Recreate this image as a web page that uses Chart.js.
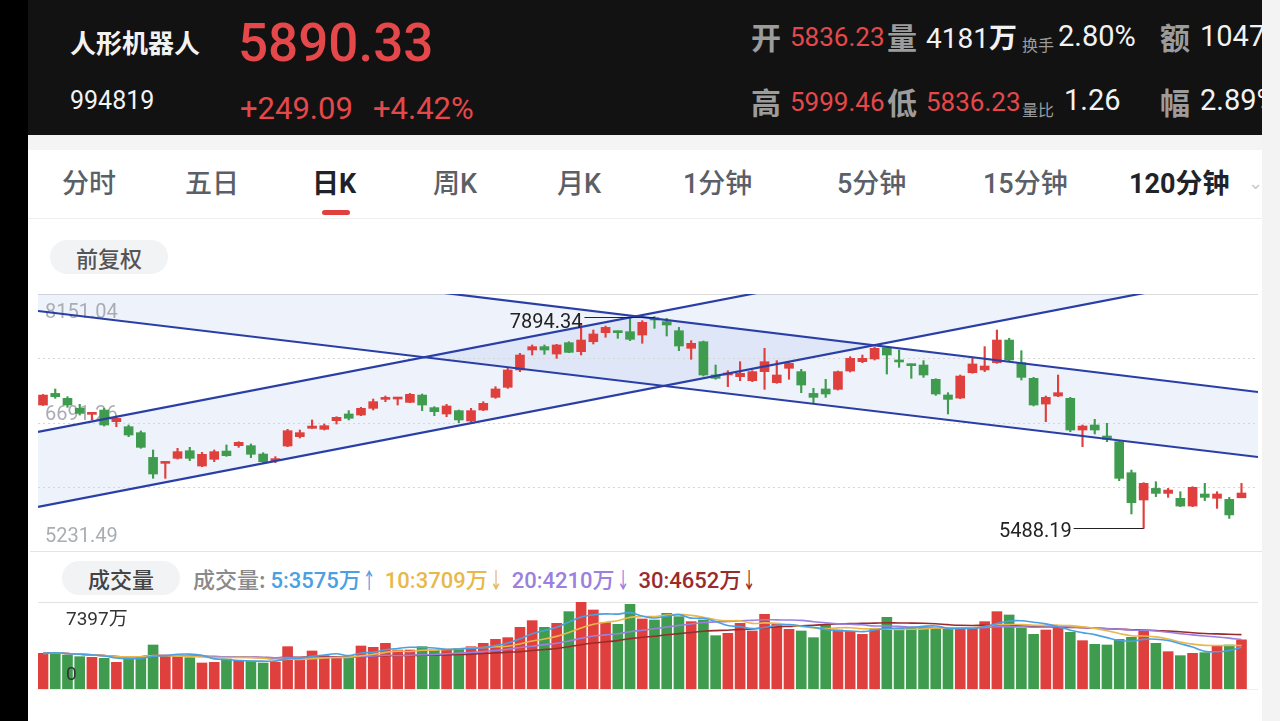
<!DOCTYPE html>
<html lang="zh-CN">
<head>
<meta charset="utf-8">
<title>人形机器人 日K</title>
<script src="https://cdn.jsdelivr.net/npm/chart.js@4.4.1/dist/chart.umd.min.js"></script>
<style>
  html, body { margin: 0; padding: 0; }
  body {
    width: 1280px; height: 721px; overflow: hidden; position: relative; background: #fff;
    font-family: Roboto, "Noto Sans CJK SC", sans-serif;
  }
  .abs { position: absolute; white-space: nowrap; }
  #header { left: 0; top: 0; width: 1280px; height: 135px; background: #121212; }
  #leftStrip { left: 0; top: 0; width: 28px; height: 721px; background: #000; }
  #rightStrip { left: 1262px; top: 0; width: 18px; height: 721px; background: #f3f3f3; }
  #band { left: 28px; top: 135px; width: 1234px; height: 15px; background: #f4f4f4; }
  .hz { color: #9c9c9c; font-size: 30px; font-weight: 700; line-height: 30px; font-family: "Noto Sans CJK SC", sans-serif; }
  .hn { font-size: 26px; line-height: 26px; }
  .hs { color: #9c9c9c; font-size: 16px; line-height: 16px; font-family: "Noto Sans CJK SC", sans-serif; }
  .red { color: #e5484a; }
  .white { color: #f2f2f2; }
  .tab { top: 168px; font-size: 27px; line-height: 32px; color: #5b6068; font-weight: 500; }
  .tab.on { color: #1f2329; font-weight: 700; }
  .pill { background: #f2f3f5; border-radius: 17px; text-align: center; color: #555; font-size: 22px;
          font-family: "Noto Sans CJK SC", sans-serif; font-weight: 500; }
  .hline { height: 1px; background: #e6e6e6; }
  canvas { position: absolute; }
</style>
</head>
<body>
<div id="header" class="abs"></div>
<div id="leftStrip" class="abs"></div>
<div id="band" class="abs"></div>

<div class="abs white" style="left:70px;top:28px;font-size:26px;line-height:28px;font-weight:700;font-family:'Noto Sans CJK SC',sans-serif;">人形机器人</div>
<div class="abs red" style="left:238px;top:15px;font-size:53px;line-height:56px;font-weight:500;">5890.33</div>
<div class="abs white" style="left:70px;top:88px;font-size:25px;line-height:26px;">994819</div>
<div class="abs red" style="left:240px;top:93px;font-size:31px;line-height:32px;">+249.09</div>
<div class="abs red" style="left:373px;top:93px;font-size:31px;line-height:32px;">+4.42%</div>

<div class="abs hz" style="left:751px;top:21px;">开</div>
<div class="abs hn red" style="left:790px;top:24px;">5836.23</div>
<div class="abs hz" style="left:887px;top:21px;">量</div>
<div class="abs hn white" style="left:926px;top:23px;font-size:28px;">4181<span style="font-family:'Noto Sans CJK SC';font-weight:700;">万</span></div>
<div class="abs hs" style="left:1022px;top:36px;">换手</div>
<div class="abs hn white" style="left:1058px;top:23px;font-size:29px;">2.80%</div>
<div class="abs hz" style="left:1160px;top:21px;">额</div>
<div class="abs hn white" style="left:1200px;top:23px;font-size:29px;">1047万</div>

<div class="abs hz" style="left:751px;top:86px;">高</div>
<div class="abs hn red" style="left:790px;top:89px;">5999.46</div>
<div class="abs hz" style="left:887px;top:86px;">低</div>
<div class="abs hn red" style="left:926px;top:89px;">5836.23</div>
<div class="abs hs" style="left:1022px;top:101px;">量比</div>
<div class="abs hn white" style="left:1064px;top:87px;font-size:29px;">1.26</div>
<div class="abs hz" style="left:1160px;top:86px;">幅</div>
<div class="abs hn white" style="left:1200px;top:87px;font-size:29px;">2.89%</div>

<div class="abs tab" style="left:62px;">分时</div>
<div class="abs tab" style="left:185px;">五日</div>
<div class="abs tab on" style="left:312px;">日K</div>
<div class="abs tab" style="left:433px;">周K</div>
<div class="abs tab" style="left:557px;">月K</div>
<div class="abs tab" style="left:683px;">1分钟</div>
<div class="abs tab" style="left:837px;">5分钟</div>
<div class="abs tab" style="left:983px;">15分钟</div>
<div class="abs tab on" style="left:1129px;">120分钟</div>
<div class="abs" style="left:1248px;top:172px;font-size:18px;color:#c8c8c8;">&#8964;</div>
<div class="abs" style="left:322px;top:210px;width:28px;height:5px;border-radius:3px;background:#e2403f;"></div>
<div class="abs hline" style="left:28px;top:218px;width:1234px;background:#eeeeee;"></div>

<div class="abs pill" style="left:50px;top:240px;width:118px;height:34px;line-height:34px;">前复权</div>

<div class="abs hline" style="left:38px;top:294px;width:1220px;background:#dcdcdc;"></div>
<canvas id="priceChart" width="1220" height="257" style="left:38px;top:294px;width:1220px;height:257px;"></canvas>
<div class="abs hline" style="left:30px;top:551px;width:1232px;background:#e4e4e4;"></div>

<div class="abs pill" style="left:62px;top:561px;width:118px;height:34px;line-height:34px;color:#444;">成交量</div>
<div id="maLegend" class="abs" style="left:193px;top:564px;font-size:22px;line-height:28px;font-weight:500;"></div>

<div class="abs hline" style="left:38px;top:602px;width:1220px;background:#e2e2e2;"></div>
<canvas id="volumeChart" width="1220" height="87" style="left:38px;top:602px;width:1220px;height:87px;"></canvas>
<div class="abs hline" style="left:38px;top:689px;width:1220px;background:#eeeeee;"></div>
<div id="rightStrip" class="abs"></div>

<script>
// daily candles, oldest to newest
const opens = [
  6890, 7022, 6966, 6852, 6784, 6833, 6701, 6644, 6576, 6295,
  6227, 6284, 6371, 6197, 6273, 6367, 6428, 6428, 6333, 6258,
  6424, 6530, 6625, 6614, 6712, 6788, 6776, 6852, 6954, 6958,
  6920, 7003, 6860, 6788, 6826, 6708, 6833, 6977, 7091, 7288,
  7515, 7553, 7469, 7598, 7496, 7609, 7712, 7731, 7723, 7685,
  7882, 7837, 7734, 7534, 7609, 7231, 7231, 7212, 7166, 7269,
  7144, 7307, 7269, 7022, 7072, 7068, 7276, 7382, 7413, 7541,
  7401, 7356, 7344, 7182, 7004, 6969, 7257, 7288, 7371, 7628,
  7371, 7193, 6901, 6992, 6966, 6606, 6663, 6538, 6473, 6121,
  5811, 5943, 5886, 5830, 5742, 5879, 5830, 5818, 5836.23
];
const highs = [
  7010, 7072, 6985, 6898, 6803, 6852, 6765, 6663, 6595, 6379,
  6246, 6398, 6409, 6352, 6379, 6436, 6473, 6447, 6348, 6303,
  6614, 6606, 6720, 6674, 6757, 6826, 6864, 6958, 6992, 6973,
  7022, 7015, 6871, 6898, 6833, 6852, 6928, 7098, 7307, 7477,
  7572, 7572, 7579, 7609, 7818, 7742, 7787, 7731, 7880, 7848,
  7894.34, 7875, 7772, 7621, 7617, 7344, 7280, 7382, 7280, 7534,
  7394, 7382, 7295, 7079, 7182, 7276, 7439, 7458, 7545, 7553,
  7515, 7356, 7394, 7189, 7030, 7231, 7420, 7553, 7742, 7647,
  7507, 7204, 6992, 7231, 6977, 6663, 6727, 6682, 6485, 6151,
  6008, 6019, 5943, 5905, 5962, 6000, 5905, 5841, 5999.46
];
const lows = [
  6885, 6966, 6864, 6776, 6720, 6651, 6644, 6530, 6398, 6057,
  6057, 6276, 6258, 6189, 6246, 6307, 6409, 6292, 6235, 6235,
  6417, 6515, 6625, 6606, 6674, 6720, 6769, 6833, 6928, 6890,
  6916, 6826, 6769, 6757, 6689, 6701, 6826, 6966, 7079, 7269,
  7458, 7466, 7420, 7484, 7458, 7583, 7659, 7647, 7621, 7591,
  7761, 7674, 7507, 7409, 7219, 7182, 7098, 7166, 7155, 7068,
  7136, 7182, 7030, 6909, 6977, 7060, 7265, 7371, 7401, 7242,
  7318, 7193, 7204, 7000, 6788, 6962, 7250, 7269, 7363, 7394,
  7174, 6879, 6701, 6985, 6587, 6417, 6561, 6473, 6030, 5652,
  5488.19, 5849, 5841, 5735, 5735, 5803, 5716, 5602, 5836.23
];
const closes = [
  7003, 6985, 6890, 6795, 6803, 6663, 6738, 6549, 6409, 6106,
  6246, 6360, 6284, 6330, 6360, 6314, 6466, 6330, 6246, 6269,
  6598, 6576, 6651, 6655, 6750, 6739, 6852, 6928, 6973, 6973,
  7011, 6890, 6814, 6879, 6720, 6826, 6909, 7072, 7288, 7458,
  7553, 7515, 7572, 7488, 7628, 7697, 7772, 7712, 7636, 7829,
  7856, 7799, 7560, 7591, 7231, 7193, 7250, 7250, 7269, 7382,
  7231, 7363, 7117, 6977, 7015, 7269, 7420, 7420, 7534, 7458,
  7379, 7337, 7231, 7015, 6954, 7219, 7356, 7333, 7628, 7401,
  7204, 6890, 6977, 7030, 6606, 6651, 6606, 6500, 6057, 5780,
  6000, 5886, 5924, 5742, 5955, 5841, 5879, 5641.24, 5890.33
];
// volume in 万
const volumes = [
  3033, 3119, 2892, 2750, 2693, 2608, 2268, 2608, 2750, 3742,
  2835, 2835, 2665, 2211, 2268, 2551, 2438, 2381, 2211, 2268,
  3600, 2551, 3232, 2835, 2750, 2835, 3657, 3544, 3884, 3317,
  3317, 3600, 3317, 3317, 3459, 3600, 3884, 4224, 4366, 5245,
  5812, 5245, 5585, 6577, 7397, 6719, 5642, 5500, 7201, 5954,
  5868, 6435, 6152, 5727, 5868, 4536, 4734, 5585, 4933, 6350,
  5500, 5075, 4933, 4366, 5443, 5018, 4900, 4649, 5075, 6095,
  5160, 5160, 5160, 5216, 5160, 5075, 5245, 5727, 6577, 6294,
  5160, 4649, 5018, 5358, 4820, 4111, 3799, 3742, 4224, 4394,
  4933, 3884, 3175, 2835, 3033, 3090, 3685, 3742, 4181
];

const priceGrid = [7421.15, 6691.26, 5961.38];
const priceTicks = [8151.04, 6691.26, 5231.49];
const volumeTicks = [7397, 0];

// hand-drawn trend channels: [candle index, price] at both ends
const descUpper = [[-0.41, 8724.7], [99.35, 7037.7]];
const descLower = [[-0.41, 7957.9], [99.35, 6299.4]];
const ascUpper = [[-0.41, 6583.4], [99.35, 9264.3]];
const ascLower = [[-0.41, 5731.4], [99.35, 8412.3]];

const maPeriods = [5, 10, 20, 30];
const maColors = ['#4aa0e2', '#e8b84a', '#9b80e0', '#9b2a2c'];
const maLegend = ['5:3575万', '10:3709万', '20:4210万', '30:4652万'];
const maArrows = ['↑', '↓', '↓', '↓'];

const RED = '#e0403d';
const GREEN = '#3f9c4f';
const candleColors = closes.map((c, i) => (c >= opens[i] ? RED : GREEN));

// legend row over the volume panel
const legendBox = document.getElementById('maLegend');
legendBox.innerHTML = '<span style="color:#8a8a8a;font-family:\'Noto Sans CJK SC\'">成交量: </span>' +
  maLegend.map((t, k) =>
    `<span style="color:${maColors[k]};margin-right:5px">${t}<span style="display:inline-block;transform:scaleX(0.6);margin-left:-3px">${maArrows[k]}</span></span>`
  ).join('');

const movingAverage = (arr, n) => arr.map((v, i) => {
  const part = arr.slice(Math.max(0, i - n + 1), i + 1);
  return part.reduce((s, x) => s + x, 0) / part.length;
});

const trendLine = (pts, fill) => ({
  type: 'line',
  data: pts.map(p => ({ x: p[0], y: p[1] })),
  borderColor: '#2a3fa6',
  borderWidth: 2.2,
  pointRadius: 0,
  backgroundColor: 'rgba(90,130,220,0.1)',
  fill: fill,
  order: 0
});

const xRange = { type: 'linear', min: -0.41, max: 99.35, display: false, offset: false };
const baseFont = 'Roboto, "Noto Sans CJK SC", sans-serif';

// dashed grid and axis labels, drawn under the candles
const priceBack = {
  id: 'priceBack',
  beforeDatasetsDraw(chart) {
    const { ctx, chartArea, scales } = chart;
    ctx.save();
    ctx.strokeStyle = '#d6d6d6';
    ctx.lineWidth = 1;
    ctx.setLineDash([2, 3]);
    priceGrid.forEach(v => {
      const y = Math.round(scales.y.getPixelForValue(v)) + 0.5;
      ctx.beginPath();
      ctx.moveTo(chartArea.left, y);
      ctx.lineTo(chartArea.right, y);
      ctx.stroke();
    });
    ctx.setLineDash([]);
    ctx.fillStyle = '#a9adb3';
    ctx.font = '20px ' + baseFont;
    ctx.textBaseline = 'middle';
    priceTicks.forEach((v, k) => {
      const y = scales.y.getPixelForValue(v) + (k === 0 ? 19 : (k === 1 ? -8 : -14));
      ctx.fillText(v.toFixed(2), chartArea.left + 7, y);
    });
    ctx.restore();
  },
  afterDatasetsDraw(chart) {
    const { ctx, scales } = chart;
    const hi = highs.indexOf(Math.max(...highs));
    const lo = lows.indexOf(Math.min(...lows));
    ctx.save();
    ctx.strokeStyle = '#222';
    ctx.fillStyle = '#222';
    ctx.lineWidth = 1;
    ctx.font = '20px ' + baseFont;
    ctx.textAlign = 'right';
    ctx.textBaseline = 'middle';
    [[hi, highs[hi], 5], [lo, lows[lo], 3]].forEach(([i, v, dy]) => {
      const x = scales.x.getPixelForValue(i);
      const y = Math.round(scales.y.getPixelForValue(v)) + 0.5;
      ctx.beginPath();
      ctx.moveTo(x - 70, y);
      ctx.lineTo(x, y);
      ctx.stroke();
      ctx.fillText(v.toFixed(2), x - 72, y + dy);
    });
    ctx.restore();
  }
};

new Chart(document.getElementById('priceChart'), {
  type: 'bar',
  data: {
    datasets: [
      trendLine(descUpper, '+1'),
      trendLine(descLower, false),
      trendLine(ascUpper, '+1'),
      trendLine(ascLower, false),
      {
        type: 'bar',
        data: lows.map((l, i) => ({ x: i, y: [l, highs[i]] })),
        backgroundColor: candleColors,
        barThickness: 1.5,
        grouped: false,
        order: 2
      },
      {
        type: 'bar',
        data: opens.map((o, i) => ({ x: i, y: [o, closes[i]] })),
        backgroundColor: candleColors,
        barThickness: 9,
        minBarLength: 2,
        grouped: false,
        order: 1
      }
    ]
  },
  options: {
    responsive: false,
    animation: false,
    events: [],
    layout: { padding: 0 },
    scales: {
      x: xRange,
      y: { min: 5231.49, max: 8151.04, display: false }
    },
    plugins: {
      legend: { display: false },
      tooltip: { enabled: false },
      filler: { drawTime: 'beforeDatasetsDraw' }
    }
  },
  plugins: [priceBack]
});

const volumeLabels = {
  id: 'volumeLabels',
  afterDatasetsDraw(chart) {
    const { ctx, chartArea, scales } = chart;
    ctx.save();
    ctx.fillStyle = '#333';
    ctx.font = '19px ' + baseFont;
    ctx.textBaseline = 'middle';
    volumeTicks.forEach(v => {
      const y = scales.y.getPixelForValue(v) + (v > 0 ? 18 : -14);
      ctx.fillText(v > 0 ? v + '万' : '0', chartArea.left + 28, y);
    });
    ctx.restore();
  }
};

new Chart(document.getElementById('volumeChart'), {
  type: 'bar',
  data: {
    datasets: [
      ...maPeriods.map((n, k) => ({
        type: 'line',
        data: movingAverage(volumes, n).map((v, i) => ({ x: i, y: v })),
        borderColor: maColors[k],
        borderWidth: 1.6,
        pointRadius: 0,
        tension: 0.35,
        fill: false,
        order: 0
      })),
      {
        type: 'bar',
        data: volumes.map((v, i) => ({ x: i, y: v })),
        backgroundColor: candleColors,
        barThickness: 10,
        order: 1
      }
    ]
  },
  options: {
    responsive: false,
    animation: false,
    events: [],
    layout: { padding: 0 },
    scales: {
      x: xRange,
      y: { min: 0, max: 7397, display: false }
    },
    plugins: { legend: { display: false }, tooltip: { enabled: false } }
  },
  plugins: [volumeLabels]
});
</script>
</body>
</html>
